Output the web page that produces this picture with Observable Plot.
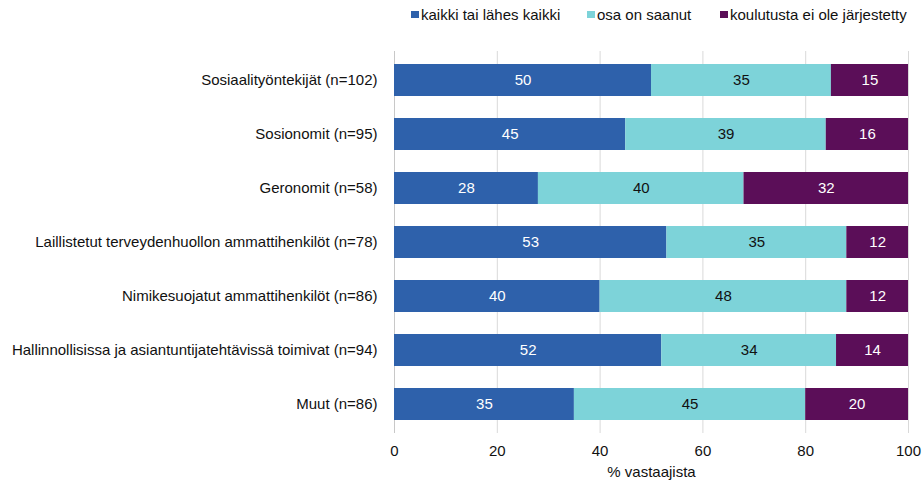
<!DOCTYPE html>
<html><head><meta charset="utf-8">
<script src="https://cdn.jsdelivr.net/npm/d3@7"></script>
<script src="https://cdn.jsdelivr.net/npm/@observablehq/plot@0.6"></script>
<style>
body{margin:0;background:#fff;font-family:"Liberation Sans",Arial,sans-serif;}
#wrap{position:relative;width:923px;height:482px;}
.leg{position:absolute;top:6px;font-size:15px;color:#111;display:flex;align-items:center;white-space:nowrap;}
.leg i{display:inline-block;width:8px;height:7px;margin-right:2px;}
</style></head><body>
<div id="wrap"></div>
<script>
const categories = [
  "Sosiaalityöntekijät (n=102)",
  "Sosionomit (n=95)",
  "Geronomit (n=58)",
  "Laillistetut terveydenhuollon ammattihenkilöt (n=78)",
  "Nimikesuojatut ammattihenkilöt (n=86)",
  "Hallinnollisissa ja asiantuntijatehtävissä toimivat (n=94)",
  "Muut (n=86)"
];
const series = ["kaikki tai lähes kaikki", "osa on saanut", "koulutusta ei ole järjestetty"];
const kaikki = [50, 45, 28, 53, 40, 52, 35];
const osa = [35, 39, 40, 35, 48, 34, 45];
const eiJarjestetty = [15, 16, 32, 12, 12, 14, 20];
const xTicks = [0, 20, 40, 60, 80, 100];
const colors = ["#2E61AB", "#7DD3D9", "#5B0E58"];
const textColors = ["#ffffff", "#111111", "#ffffff"];

const values = [kaikki, osa, eiJarjestetty];
const rows = [];
categories.forEach((c, i) => {
  let acc = 0;
  series.forEach((s, j) => {
    const v = values[j][i];
    rows.push({cat: c, series: s, value: v, x1: acc, x2: acc + v, mid: acc + v / 2, tc: textColors[j]});
    acc += v;
  });
});

const chart = Plot.plot({
  width: 923, height: 482,
  marginTop: 51, marginBottom: 49, marginLeft: 394, marginRight: 15,
  style: {fontFamily: '"Liberation Sans", Arial, sans-serif', fontSize: "15px", color: "#111"},
  x: {domain: [0, 100]},
  y: {domain: categories, paddingInner: 0.41, paddingOuter: 0.205},
  color: {domain: series, range: colors},
  marks: [
    Plot.gridX(xTicks, {stroke: "#d9d9d9", strokeOpacity: 1}),
    Plot.ruleX([0], {stroke: "#c8c8c8"}),
    Plot.barX(rows, {y: "cat", x1: "x1", x2: "x2", fill: "series"}),
    Plot.text(rows, {y: "cat", x: "mid", text: "value", fill: d => d.tc, fontSize: 15}),
    Plot.axisY({tickSize: 0, tickPadding: 17, label: null, fontSize: 15}),
    Plot.axisX({ticks: xTicks, tickSize: 0, tickPadding: 12, label: "% vastaajista", labelAnchor: "center", labelArrow: "none", labelOffset: 43, fontSize: 15})
  ]
});
document.getElementById("wrap").appendChild(chart);

const legendPos = [411, 587, 720];
series.forEach((s, j) => {
  const d = document.createElement("div");
  d.className = "leg";
  d.style.left = legendPos[j] + "px";
  d.innerHTML = `<i style="background:${colors[j]}"></i>${s}`;
  document.getElementById("wrap").appendChild(d);
});
</script>
</body></html>
